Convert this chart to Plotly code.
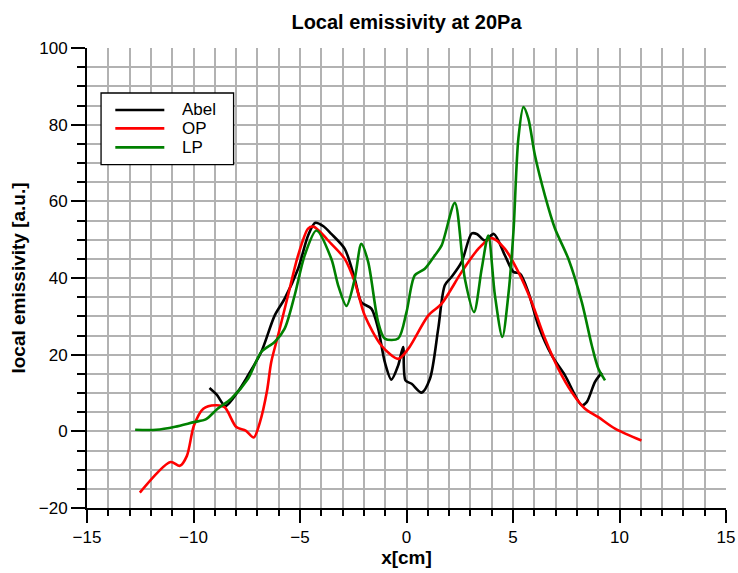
import plotly.graph_objects as go

abel_x = [-9.25, -8.9, -8.5, -7.9, -7.44, -6.82, -6.19, -5.72, -5.09, -4.62, -4.28, -3.9, -3.53, -2.9,
          -2.43, -2.12, -1.65, -1.33, -1.02, -0.71, -0.39, -0.16, -0.05, 0.24, 0.71, 1.1, 1.49, 1.8,
          2.12, 2.59, 3.06, 3.3, 3.68, 4.1, 4.62, 5.02, 5.33, 5.72, 6.19, 6.82, 7.44, 8.23, 8.46, 8.85, 9.17]
abel_y = [11.3, 9.5, 6.6, 10.5, 14.6, 20.7, 30.2, 34.6, 42.4, 51.1, 54.4, 53.5, 51.5, 47.6,
          39.8, 33.7, 32.0, 26.8, 18.1, 13.5, 17.2, 22.0, 13.3, 12.4, 10.1, 13.7, 26.8, 38.1,
          40.3, 44.2, 51.6, 51.5, 49.8, 51.5, 45.9, 41.6, 41.1, 36.3, 27.6, 19.8, 14.6, 6.8, 7.6, 12.9, 15.3]

op_x = [-12.52, -11.08, -10.64, -10.31, -9.98, -9.54, -8.98, -8.54, -7.99, -7.55, -7.17, -6.88, -6.55,
        -6.35, -6.03, -5.56, -5.09, -4.62, -4.37, -3.53, -2.9, -2.43, -1.96, -1.18, -0.39, 0.08,
        1.02, 1.65, 2.59, 3.37, 4.0, 4.62, 5.25, 5.88, 6.5, 7.13, 7.76, 8.38, 9.01, 9.79, 11.03]
op_y = [-16.0, -8.0, -9.0, -6.4, 1.5, 5.9, 6.8, 6.3, 1.1, 0.2, -1.6, 2.4, 10.5,
        18.1, 25.0, 35.5, 45.9, 52.9, 53.4, 48.9, 45.0, 39.0, 30.2, 22.4, 18.9, 21.5,
        30.2, 33.3, 41.6, 47.6, 50.4, 47.6, 41.6, 33.7, 24.2, 16.3, 10.2, 5.9, 3.7, 0.7, -2.4]

lp_x = [-12.74, -11.75, -10.86, -9.98, -9.43, -8.87, -8.23, -7.44, -6.82, -6.19, -5.72, -5.25, -4.78,
        -4.23, -3.53, -3.21, -2.82, -2.43, -2.12, -1.8, -1.33, -1.02, -0.39, 0.0, 0.39, 0.86, 1.33,
        1.65, 2.27, 2.74, 3.17, 3.53, 3.84, 4.15, 4.5, 4.78, 5.02, 5.25, 5.49, 5.72, 6.03, 6.5,
        6.97, 7.6, 8.23, 8.7, 9.01, 9.32]
lp_y = [0.4, 0.4, 1.2, 2.4, 3.1, 5.9, 8.5, 13.7, 20.7, 23.3, 26.8, 35.5, 45.9,
        52.4, 45.0, 38.1, 32.7, 39.8, 48.9, 44.2, 28.5, 24.2, 24.2, 31.1, 40.7, 42.4, 45.9,
        48.5, 59.6, 39.8, 31.1, 42.4, 51.1, 35.5, 24.6, 35.5, 52.0, 76.3, 84.6, 81.6, 72.0, 61.5,
        52.9, 45.0, 33.7, 22.4, 16.3, 13.3]

series_names = ["Abel", "OP", "LP"]
series_colors = ["black", "#ff0000", "#008000"]

fig = go.Figure()
for name, xs, ys, col in zip(series_names, [abel_x, op_x, lp_x], [abel_y, op_y, lp_y], series_colors):
    fig.add_trace(go.Scatter(x=xs, y=ys, name=name, mode="lines", showlegend=False,
                             line=dict(color=col, width=2.6, shape="spline", smoothing=0.8)))

font = "Liberation Sans, Arial, sans-serif"
grid = "#b2b2b2"

# legend box drawn in paper coordinates to match the original legend layout
shapes = [dict(type="rect", xref="paper", yref="paper", x0=0.022, x1=0.2294, y0=0.7464, y1=0.9022,
               line=dict(color="black", width=1.3), fillcolor="white", layer="above")]
annotations = []
leg_y = [0.8653, 0.8253, 0.7840]
for name, col, yy in zip(series_names, series_colors, leg_y):
    shapes.append(dict(type="line", xref="paper", yref="paper", x0=0.0443, x1=0.121, y0=yy, y1=yy,
                       line=dict(color=col, width=2.6), layer="above"))
    annotations.append(dict(text=name, xref="paper", yref="paper", x=0.1475, y=yy, xanchor="left",
                            yanchor="middle", showarrow=False, font=dict(size=17),
                            height=17, borderpad=0))

fig.update_layout(
    width=738, height=573,
    margin=dict(l=87, r=12, t=48, b=65),
    paper_bgcolor="white", plot_bgcolor="white",
    font=dict(family=font, size=17, color="black"),
    title=dict(text="<b>Local emissivity at 20Pa</b>", x=0.5, xref="paper", xanchor="center",
               y=0.962, yanchor="middle", font=dict(size=20)),
    showlegend=False,
    shapes=shapes, annotations=annotations,
)
fig.update_xaxes(range=[-15, 15], tick0=-15, dtick=5, ticks="outside", ticklen=13, tickwidth=1.8,
                 tickcolor="black", showline=True, linecolor="black", linewidth=2, automargin=False,
                 showgrid=True, gridcolor=grid, gridwidth=1.8, zeroline=False,
                 title=dict(text="<b>x[cm]</b>", font=dict(size=19), standoff=4),
                 minor=dict(dtick=1, ticks="outside", ticklen=6, tickcolor="black", tickwidth=1.8,
                            showgrid=True, gridcolor=grid, gridwidth=1.8))
fig.update_yaxes(range=[-20, 100], tick0=-20, dtick=20, ticks="outside", ticklen=14, tickwidth=1.8,
                 tickcolor="black", showline=True, linecolor="black", linewidth=2, automargin=False,
                 showgrid=True, gridcolor=grid, gridwidth=1.8, zeroline=False,
                 title=dict(text="<b>local emissivity [a.u.]</b>", font=dict(size=19), standoff=8),
                 minor=dict(dtick=5, ticks="outside", ticklen=8, tickcolor="black", tickwidth=1.8,
                            showgrid=True, gridcolor=grid, gridwidth=1.8))

fig.write_html("out.html")
